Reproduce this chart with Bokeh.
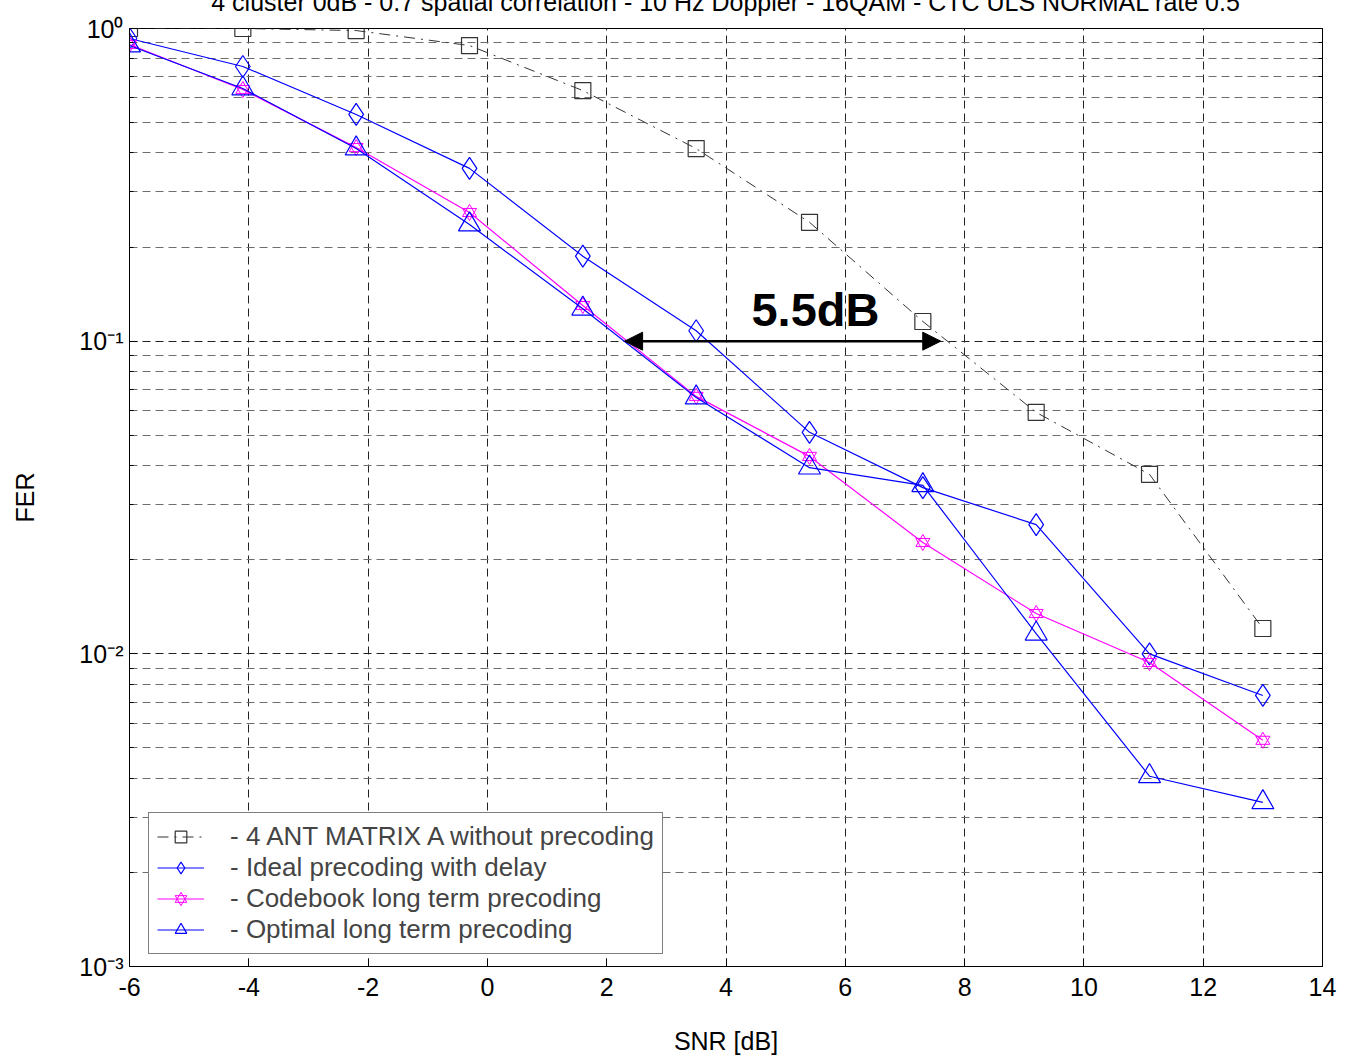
from bokeh.plotting import figure
from bokeh.models import (Range1d, LinearAxis, LogAxis, FixedTicker, Label, Arrow,
                          NormalHead, Legend, LegendItem, CustomJSTickFormatter, Title)
from bokeh.embed import file_html
from bokeh.resources import INLINE

# SNR points shared by every curve
snr = [-6, -4.1, -2.2, -0.3, 1.6, 3.5, 5.4, 7.3, 9.2, 11.1, 13]

fer_no_precoding = [1.0, 1.0, 0.985, 0.882, 0.633, 0.413, 0.240, 0.1156, 0.0592, 0.0375, 0.01205]
fer_ideal_delay = [0.929, 0.756, 0.531, 0.357, 0.187, 0.108, 0.0511, 0.0340, 0.0259, 0.0100, 0.00736]
fer_codebook = [0.889, 0.638, 0.416, 0.258, 0.130, 0.0666, 0.0428, 0.0227, 0.01346, 0.00938, 0.00529]
fer_optimal = [0.882, 0.643, 0.413, 0.236, 0.127, 0.066, 0.0394, 0.0346, 0.0116, 0.00406, 0.00335]

legend_labels = [
    "- 4 ANT MATRIX A without precoding",
    "- Ideal precoding with delay",
    "- Codebook long term precoding",
    "- Optimal long term precoding",
]

x_ticks = [-6, -4, -2, 0, 2, 4, 6, 8, 10, 12, 14]
decades = [1e-3, 1e-2, 1e-1, 1.0]
decade_labels = ["10\u207b\u00b3", "10\u207b\u00b2", "10\u207b\u00b9", "10\u2070"]
minor_y = [m * d for d in [1e-3, 1e-2, 1e-1] for m in range(2, 10)]

gap_start, gap_end, gap_level, gap_text = 2.3, 7.6, 0.1, "5.5dB"
title_text = ("4 cluster 0dB - 0.7 spatial correlation - 10 Hz Doppler - "
              "16QAM - CTC ULS NORMAL rate 0.5")

FONT = "Liberation Sans"
SHIFT = 30  # page is scrolled up so the title sits at the very top edge

p = figure(width=1351, height=1055 + SHIFT, frame_width=1193, frame_height=938,
           x_range=Range1d(-6, 14), y_range=Range1d(1e-3, 1.0), y_axis_type="log",
           output_backend="svg", toolbar_location=None,
           min_border_left=129, min_border_right=29, min_border_top=28 + SHIFT,
           min_border_bottom=89, background_fill_color="white",
           border_fill_color="white", styles={"margin-top": f"-{SHIFT}px"})
p.outline_line_color = "black"
p.outline_line_width = 1

p.add_layout(Title(text=title_text, align="center", text_font=FONT,
                   text_font_size="25px", text_font_style="normal",
                   text_color="black", standoff=25), "above")

xt = FixedTicker(ticks=x_ticks)
yt = FixedTicker(ticks=decades, minor_ticks=minor_y)

# bottom / left axes
p.xaxis.ticker = xt
p.xaxis.formatter = CustomJSTickFormatter(code="return String(tick)")
p.yaxis.ticker = yt
p.yaxis.formatter = CustomJSTickFormatter(
    args=dict(vals=decades, labels=decade_labels),
    code="""
    let best = 0;
    for (let i = 0; i < vals.length; i++) {
        if (Math.abs(Math.log10(vals[i]) - Math.log10(tick)) <
            Math.abs(Math.log10(vals[best]) - Math.log10(tick))) best = i;
    }
    return labels[best];
""")
for ax in (p.xaxis[0], p.yaxis[0]):
    ax.axis_line_color = "black"
    ax.major_tick_in = 8
    ax.major_tick_out = 0
    ax.minor_tick_in = 4
    ax.minor_tick_out = 0
    ax.major_label_text_font = FONT
    ax.major_label_text_font_size = "25px"
    ax.major_label_text_color = "black"
    ax.axis_label_text_font = FONT
    ax.axis_label_text_font_size = "25px"
    ax.axis_label_text_font_style = "normal"
    ax.axis_label_text_color = "black"
p.xaxis.axis_label = "SNR [dB]"
p.xaxis.major_label_standoff = 11
p.xaxis.axis_label_standoff = 28
p.yaxis.axis_label = "FER"
p.yaxis.major_label_standoff = 6
p.yaxis.axis_label_standoff = 37

# top / right axes: ticks only, closing the box
blank = CustomJSTickFormatter(code="return ''")
top = LinearAxis(ticker=xt, formatter=blank, major_tick_in=8, major_label_standoff=0,
                 major_label_text_font_size="1px",
                 major_tick_out=0, minor_tick_in=0, minor_tick_out=0)
right = LogAxis(ticker=yt, formatter=blank, major_tick_in=8, major_label_standoff=0,
                major_label_text_font_size="1px",
                major_tick_out=0, minor_tick_in=4, minor_tick_out=0)
p.add_layout(top, "above")
p.add_layout(right, "right")

# dashed grid
p.xgrid.ticker = xt
p.ygrid.ticker = yt
p.xgrid.grid_line_color = "#222222"
p.xgrid.grid_line_dash = "8 5"
p.ygrid.grid_line_color = "#222222"
p.ygrid.grid_line_dash = "8 5"
p.ygrid.minor_grid_line_color = "#6e6e6e"
p.ygrid.minor_grid_line_dash = "8 5"

# curves
l0 = p.line(snr, fer_no_precoding, line_color="#333333", line_width=1, line_dash="11 6 2 6")
m0 = p.scatter(snr, fer_no_precoding, marker="square", size=16, fill_alpha=0,
               line_color="#333333", line_width=1.2)

l1 = p.line(snr, fer_ideal_delay, line_color="#0000ff", line_width=1.2)
m1 = p.scatter(snr, fer_ideal_delay, marker="diamond", size=22, fill_alpha=0,
               line_color="#0000ff", line_width=1.2)

l2 = p.line(snr, fer_codebook, line_color="#ff00ff", line_width=1.2)
m2a = p.scatter(snr, fer_codebook, marker="triangle", size=14, fill_alpha=0,
                line_color="#ff00ff", line_width=1)
m2b = p.scatter(snr, fer_codebook, marker="inverted_triangle", size=14, fill_alpha=0,
                line_color="#ff00ff", line_width=1)

l3 = p.line(snr, fer_optimal, line_color="#0000ff", line_width=1.2)
m3 = p.scatter(snr, fer_optimal, marker="triangle", size=22, fill_alpha=0,
               line_color="#0000ff", line_width=1.2)

# SNR gap annotation
head = dict(size=18, fill_color="black", line_color="black")
p.add_layout(Arrow(start=NormalHead(**head), end=NormalHead(**head),
                   x_start=gap_start, y_start=gap_level, x_end=gap_end, y_end=gap_level,
                   line_width=2.5, line_color="black"))
p.add_layout(Label(x=5.5, y=gap_level, y_offset=32,
                   text=gap_text, text_font=FONT, text_font_size="47px",
                   text_font_style="bold", text_align="center",
                   text_baseline="alphabetic", text_color="black"))

legend = Legend(items=[
    LegendItem(label=legend_labels[0], renderers=[l0, m0]),
    LegendItem(label=legend_labels[1], renderers=[l1, m1]),
    LegendItem(label=legend_labels[2], renderers=[l2, m2a, m2b]),
    LegendItem(label=legend_labels[3], renderers=[l3, m3]),
], location=(19, 12), border_line_color="black", border_line_width=1,
    background_fill_color="white", background_fill_alpha=1, padding=8, spacing=0,
    margin=0, label_text_font=FONT, label_text_font_size="26px",
    glyph_width=47, glyph_height=29, label_height=29, label_standoff=26)
p.add_layout(legend)

open("out.html", "w").write(file_html(p, INLINE))
